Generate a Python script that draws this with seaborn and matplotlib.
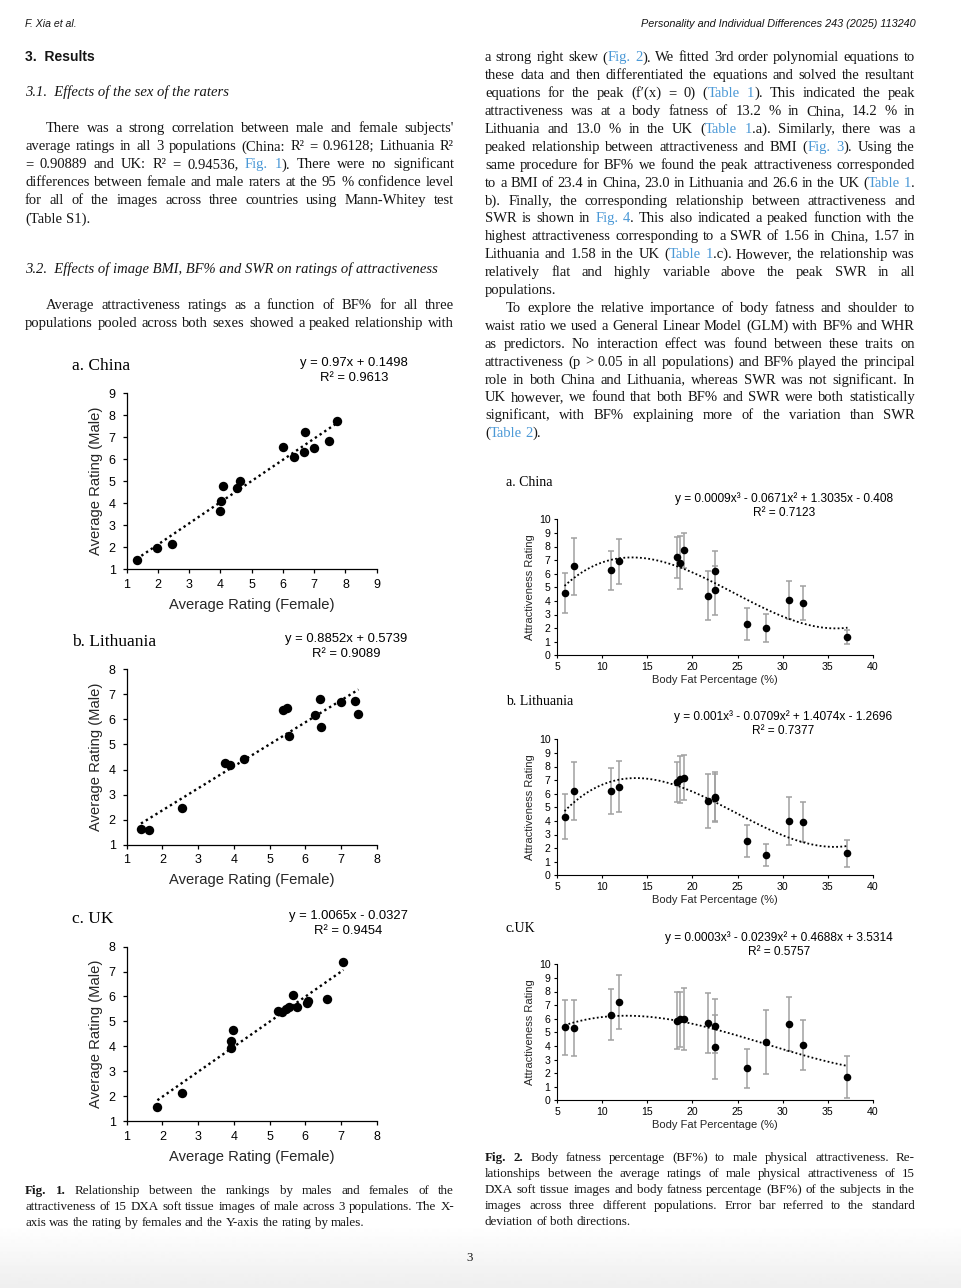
import numpy as np
import matplotlib
matplotlib.use('Agg')
import matplotlib.pyplot as plt
import seaborn as sns

# ---------------- data ----------------
# Fig. 1  average rating given by females (x) and by males (y)
china_female = [1.32, 1.98, 2.45, 3.97, 4.01, 4.09, 4.52, 4.63, 5.99, 6.35, 6.66, 6.71, 7.00, 7.46, 7.73]
china_male = [1.41, 1.97, 2.12, 3.66, 4.10, 4.79, 4.67, 5.01, 6.55, 6.11, 6.34, 7.22, 6.49, 6.83, 7.74]
lith_female = [1.40, 1.63, 2.56, 3.74, 3.89, 4.28, 5.39, 5.49, 5.54, 6.27, 6.40, 6.43, 7.00, 7.40, 7.49]
lith_male = [1.61, 1.59, 2.48, 4.26, 4.18, 4.42, 6.36, 6.46, 5.35, 6.16, 6.82, 5.71, 6.68, 6.72, 6.20]
uk_female = [1.86, 2.55, 3.91, 3.93, 3.97, 5.25, 5.34, 5.46, 5.55, 5.65, 5.76, 6.04, 6.07, 6.60, 7.07]
uk_male = [1.58, 2.11, 3.92, 4.21, 4.65, 5.42, 5.39, 5.48, 5.58, 6.05, 5.59, 5.75, 5.80, 5.91, 7.39]

# Fig. 2  body fat % of the 15 images, mean rating and SD per population
body_fat = [5.8, 6.8, 11.0, 11.9, 18.3, 18.6, 19.1, 21.7, 22.5, 22.5, 26.1, 28.2, 30.7, 32.3, 37.2]
china_rating = [4.58, 6.55, 6.25, 6.92, 7.20, 6.80, 7.72, 4.38, 6.22, 4.78, 2.32, 1.98, 4.05, 3.85, 1.35]
china_sd = [1.50, 2.10, 1.45, 1.65, 1.48, 1.95, 1.30, 1.80, 1.45, 1.82, 1.18, 1.03, 1.40, 1.28, 0.52]
lith_rating = [4.32, 6.20, 6.22, 6.52, 6.88, 7.05, 7.18, 5.48, 5.78, 5.70, 2.52, 1.48, 3.98, 3.92, 1.62]
lith_sd = [1.65, 2.15, 1.68, 1.85, 1.47, 1.75, 1.65, 1.97, 1.82, 1.75, 1.15, 0.83, 1.78, 1.45, 1.00]
uk_rating = [5.38, 5.32, 6.28, 7.20, 5.85, 5.95, 5.95, 5.68, 5.45, 3.92, 2.35, 4.28, 5.58, 4.05, 1.73]
uk_sd = [2.03, 2.03, 1.88, 1.98, 2.08, 2.05, 2.28, 2.20, 2.00, 2.38, 1.45, 2.35, 1.98, 1.83, 1.53]

fig1_titles = ['a. China', 'b. Lithuania', 'c. UK']
fig1_eqs = ['y = 0.97x + 0.1498', 'y = 0.8852x + 0.5739', 'y = 1.0065x - 0.0327']
fig1_r2 = ['R\u00b2 = 0.9613', 'R\u00b2 = 0.9089', 'R\u00b2 = 0.9454']
fig2_titles = ['a. China', 'b. Lithuania', 'c.UK']
fig2_eqs = ['y = 0.0009x\u00b3 - 0.0671x\u00b2 + 1.3035x - 0.408',
            'y = 0.001x\u00b3 - 0.0709x\u00b2 + 1.4074x - 1.2696',
            'y = 0.0003x\u00b3 - 0.0239x\u00b2 + 0.4688x + 3.5314']
fig2_r2 = ['R\u00b2 = 0.7123', 'R\u00b2 = 0.7377', 'R\u00b2 = 0.5757']

# ---------------- page text ----------------
left_par1 = [
    "There was a strong correlation between male and female subjects'",
    "average ratings in all 3 populations (China: R\u00b2 = 0.96128; Lithuania R\u00b2",
    "= 0.90889 and UK: R\u00b2 = 0.94536, {Fig. 1}). There were no significant",
    "differences between female and male raters at the 95 % confidence level",
    "for all of the images across three countries using Mann-Whitey test",
    "(Table S1).",
]
left_par2 = [
    "Average attractiveness ratings as a function of BF% for all three",
    "populations pooled across both sexes showed a peaked relationship with",
]
right_par1 = [
    "a strong right skew ({Fig. 2}). We fitted 3rd order polynomial equations to",
    "these data and then differentiated the equations and solved the resultant",
    "equations for the peak (f\u2032(x) = 0) ({Table 1}). This indicated the peak",
    "attractiveness was at a body fatness of 13.2 % in China, 14.2 % in",
    "Lithuania and 13.0 % in the UK ({Table 1}.a). Similarly, there was a",
    "peaked relationship between attractiveness and BMI ({Fig. 3}). Using the",
    "same procedure for BF% we found the peak attractiveness corresponded",
    "to a BMI of 23.4 in China, 23.0 in Lithuania and 26.6 in the UK ({Table 1}.",
    "b). Finally, the corresponding relationship between attractiveness and",
    "SWR is shown in {Fig. 4}. This also indicated a peaked function with the",
    "highest attractiveness corresponding to a SWR of 1.56 in China, 1.57 in",
    "Lithuania and 1.58 in the UK ({Table 1}.c). However, the relationship was",
    "relatively flat and highly variable above the peak SWR in all",
    "populations.",
]
right_par2 = [
    "To explore the relative importance of body fatness and shoulder to",
    "waist ratio we used a General Linear Model (GLM) with BF% and WHR",
    "as predictors. No interaction effect was found between these traits on",
    "attractiveness (p > 0.05 in all populations) and BF% played the principal",
    "role in both China and Lithuania, whereas SWR was not significant. In",
    "UK however, we found that both BF% and SWR were both statistically",
    "significant, with BF% explaining more of the variation than SWR",
    "({Table 2}).",
]
cap1 = [
    "*Fig. 1.* Relationship between the rankings by males and females of the",
    "attractiveness of 15 DXA soft tissue images of male across 3 populations. The X-",
    "axis was the rating by females and the Y-axis the rating by males.",
]
cap2 = [
    "*Fig. 2.* Body fatness percentage (BF%) to male physical attractiveness. Re-",
    "lationships between the average ratings of male physical attractiveness of 15",
    "DXA soft tissue images and body fatness percentage (BF%) of the subjects in the",
    "images across three different populations. Error bar referred to the standard",
    "deviation of both directions.",
]

# ---------------- style ----------------
sns.set_theme(style='ticks')
plt.rcParams['font.family'] = ['Liberation Sans', 'DejaVu Sans']
plt.rcParams['axes.edgecolor'] = 'black'
plt.rcParams['axes.linewidth'] = 0.9
plt.rcParams['xtick.color'] = 'black'
plt.rcParams['ytick.color'] = 'black'

SERIF = ['Liberation Serif', 'DejaVu Serif']
NARROW = ['Liberation Sans Narrow', 'Liberation Sans', 'DejaVu Sans']
INK = '#151515'
LINK = '#4a98d6'
BODY = 10.5
CAP = 9.4

W, H = 962, 1288
fig = plt.figure(figsize=(W / 100, H / 100), dpi=100)
fig.patch.set_facecolor('white')
renderer = fig.canvas.get_renderer()

# light shadow at the bottom of the page
bg = fig.add_axes([0, 0, 1, 1], zorder=-10)
shade = np.ones((H, 1))
shade[1225:, 0] = np.linspace(1.0, 0.935, H - 1225)
bg.imshow(shade, cmap='gray', vmin=0, vmax=1, aspect='auto', extent=[0, 1, 0, 1])
bg.axis('off')


def fx(x):
    return x / W


def fy(y):
    return 1 - y / H


def parse(line):
    words = []
    blue = bold = False
    for w in line.split(' '):
        pieces = []
        cur = ''
        for ch in w:
            if ch in '{}*':
                if cur:
                    pieces.append((cur, blue, bold))
                    cur = ''
                if ch == '{':
                    blue = True
                elif ch == '}':
                    blue = False
                else:
                    bold = not bold
            else:
                cur += ch
        if cur:
            pieces.append((cur, blue, bold))
        words.append(pieces)
    return words


def text_line(x0, x1, y, line, size=BODY, justify=True, style='normal'):
    words = parse(line)
    placed = []
    total = 0
    for pieces in words:
        row = []
        for s, blue, bold in pieces:
            t = fig.text(0, 0, s, fontsize=size, family=SERIF, style=style,
                         weight='bold' if bold else 'normal',
                         color=LINK if blue else INK, va='baseline', ha='left')
            w = t.get_window_extent(renderer).width
            row.append((t, w))
            total += w
        placed.append(row)
    space = 0.25 * size * 100 / 72
    gap = space
    if justify and len(placed) > 1:
        gap = max((x1 - x0 - total) / (len(placed) - 1), 0.6 * space)
    x = x0
    base = y + 0.3 * size * 100 / 72
    for row in placed:
        for t, w in row:
            t.set_position((fx(x), fy(base)))
            x += w
        x += gap


def paragraph(x0, x1, y0, lines, step, indent=0, size=BODY, last_full=False):
    for i, ln in enumerate(lines):
        last = (i == len(lines) - 1) and not last_full
        text_line(x0 + (indent if i == 0 else 0), x1, y0 + i * step, ln,
                  size=size, justify=not last)


# header and headings
fig.text(fx(25), fy(24), 'F. Xia et al.', family=NARROW, style='italic', fontsize=7.6,
         color=INK, va='center', ha='left')
fig.text(fx(916), fy(24), 'Personality and Individual Differences 243 (2025) 113240',
         family=NARROW, style='italic', fontsize=7.8, color=INK, va='center', ha='right')
fig.text(fx(25), fy(57), '3.  Results', family=NARROW, weight='bold', fontsize=10,
         color=INK, va='center', ha='left')
fig.text(fx(25), fy(92), '3.1.  Effects of the sex of the raters', family=SERIF,
         style='italic', fontsize=BODY, color=INK, va='center', ha='left')
fig.text(fx(25), fy(269), '3.2.  Effects of image BMI, BF% and SWR on ratings of attractiveness',
         family=SERIF, style='italic', fontsize=BODY, color=INK, va='center', ha='left')

paragraph(25, 454, 128, left_par1, 18, indent=21)
paragraph(25, 454, 305, left_par2, 18, indent=21, last_full=True)
paragraph(485, 915, 57, right_par1, 17.9)
paragraph(485, 915, 57 + 14 * 17.9, right_par2, 17.9, indent=21)
paragraph(25, 454, 1190, cap1, 16, size=CAP)
paragraph(485, 915, 1157, cap2, 16, size=CAP)
fig.text(fx(470), fy(1258), '3', family=SERIF, fontsize=CAP, color=INK, va='center', ha='center')

# ---------------- Fig. 1 ----------------
fig1_x = [china_female, lith_female, uk_female]
fig1_y = [china_male, lith_male, uk_male]
fig1_top = [393.3, 669.3, 946.7]
fig1_bottom = [569.0, 844.7, 1121.0]
fig1_max = [9, 8, 8]
fig1_eq_x = [354, 346, 348]
fig1_title_y = [366, 642, 919]

for i in range(3):
    top, bot = fig1_top[i], fig1_bottom[i]
    ax = fig.add_axes([fx(126.7), fy(bot), (376.7 - 126.7) / W, (bot - top) / H])
    ax.set_facecolor('none')
    sns.regplot(x=fig1_x[i], y=fig1_y[i], ax=ax, scatter=False, ci=None, truncate=True,
                color='black', line_kws={'linestyle': (0, (1, 1.4)), 'linewidth': 1.7})
    sns.scatterplot(x=fig1_x[i], y=fig1_y[i], ax=ax, color='black', s=46, linewidth=0, zorder=3)
    ax.set_xlim(1, fig1_max[i])
    ax.set_ylim(1, fig1_max[i])
    ax.set_xticks(range(1, fig1_max[i] + 1))
    ax.set_yticks(range(1, fig1_max[i] + 1))
    ax.tick_params(axis='both', direction='out', length=3, width=0.9, labelsize=9)
    ax.tick_params(axis='x', pad=4)
    ax.tick_params(axis='y', pad=5)
    ax.set_xlabel('Average Rating (Female)', fontsize=10.6, labelpad=5)
    ax.set_ylabel('Average Rating (Male)', fontsize=10.6, labelpad=4)
    sns.despine(ax=ax)
    fig.text(fx(72), fy(fig1_title_y[i]), fig1_titles[i], family=SERIF, fontsize=12.5,
             color='black', va='center', ha='left')
    fig.text(fx(fig1_eq_x[i]), fy(fig1_title_y[i] - 3), fig1_eqs[i], fontsize=9.4,
             color='black', va='center', ha='center')
    fig.text(fx(fig1_eq_x[i]), fy(fig1_title_y[i] + 12), fig1_r2[i], fontsize=9.4,
             color='black', va='center', ha='center')

# ---------------- Fig. 2 ----------------
fig2_y = [china_rating, lith_rating, uk_rating]
fig2_err = [china_sd, lith_sd, uk_sd]
fig2_top = [519.3, 739.3, 964.3]
fig2_bottom = [655.3, 875.3, 1100.3]
fig2_title_y = [483, 702, 928]
fig2_eq_y = [499, 717, 938]
fig2_eq_x = [784, 783, 779]

for i in range(3):
    top, bot = fig2_top[i], fig2_bottom[i]
    ax = fig.add_axes([fx(557.3), fy(bot), (872.7 - 557.3) / W, (bot - top) / H])
    ax.set_facecolor('none')
    ax.errorbar(body_fat, fig2_y[i], yerr=fig2_err[i], fmt='none', ecolor='#a0a0a0',
                elinewidth=1.1, capsize=2.3, capthick=1.1, zorder=2)
    sns.regplot(x=body_fat, y=fig2_y[i], ax=ax, order=3, scatter=False, ci=None, truncate=True,
                color='black', line_kws={'linestyle': (0, (1, 1.3)), 'linewidth': 1.3})
    sns.scatterplot(x=body_fat, y=fig2_y[i], ax=ax, color='black', s=30, linewidth=0, zorder=3)
    ax.set_xlim(5, 40)
    ax.set_ylim(0, 10)
    ax.set_xticks(range(5, 41, 5))
    ax.set_yticks(range(0, 11))
    ax.tick_params(axis='both', direction='out', length=2.5, width=0.8, labelsize=7.6, pad=2.5)
    ax.set_xlabel('Body Fat Percentage (%)', fontsize=8, labelpad=2)
    ax.set_ylabel('Attractiveness Rating', fontsize=8, labelpad=3)
    for sp in ax.spines.values():
        sp.set_linewidth(0.8)
    sns.despine(ax=ax)
    fig.text(fx(506), fy(fig2_title_y[i]), fig2_titles[i], family=SERIF, fontsize=10,
             color='black', va='center', ha='left')
    fig.text(fx(fig2_eq_x[i]), fy(fig2_eq_y[i]), fig2_eqs[i], fontsize=8.6,
             color='black', va='center', ha='center')
    fig.text(fx(fig2_eq_x[i]), fy(fig2_eq_y[i] + 14), fig2_r2[i], fontsize=8.6,
             color='black', va='center', ha='center')

fig.savefig('out.png', dpi=100)
